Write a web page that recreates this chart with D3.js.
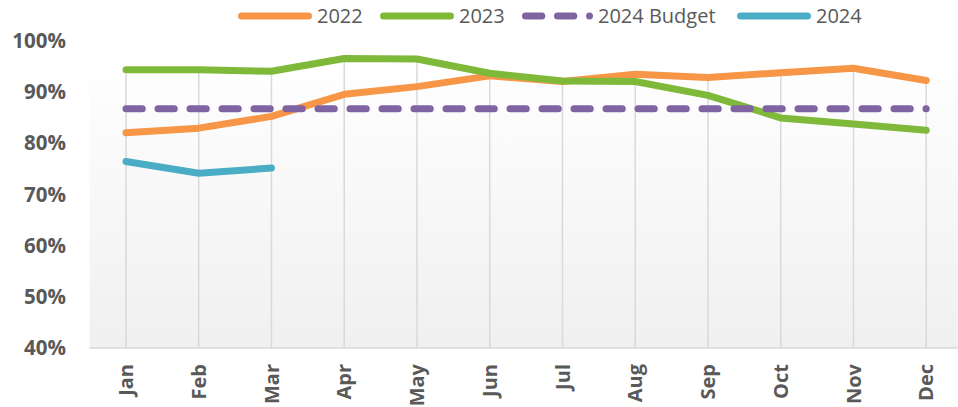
<!DOCTYPE html>
<html>
<head>
<meta charset="utf-8">
<script src="https://cdn.jsdelivr.net/npm/d3@7"></script>
<style>
  body { margin: 0; background: #fff; }
  text { font-family: "Open Sans", sans-serif; fill: #595959; }
</style>
</head>
<body>
<div id="chart"></div>
<script>
const width = 958;
const height = 407;

const months = ["Jan", "Feb", "Mar", "Apr", "May", "Jun", "Jul", "Aug", "Sep", "Oct", "Nov", "Dec"];
const yTicks = [0.4, 0.5, 0.6, 0.7, 0.8, 0.9, 1.0];

const vals2022 = [0.820, 0.829, 0.852, 0.895, 0.910, 0.931, 0.920, 0.934, 0.928, 0.937, 0.946, 0.922];
const vals2023 = [0.943, 0.943, 0.940, 0.965, 0.964, 0.936, 0.921, 0.920, 0.893, 0.849, 0.837, 0.825];
const valsBudget = [0.867, 0.867, 0.867, 0.867, 0.867, 0.867, 0.867, 0.867, 0.867, 0.867, 0.867, 0.867];
const vals2024 = [0.764, 0.741, 0.751];

const series = [
  {name: "2022", values: vals2022, color: "#F79646", dash: null},
  {name: "2023", values: vals2023, color: "#7FB93A", dash: null},
  {name: "2024 Budget", values: valsBudget, color: "#8064A2", dash: "16.3 15.7"},
  {name: "2024", values: vals2024, color: "#4BACC6", dash: null}
];

const svg = d3.select("#chart")
    .append("svg")
    .attr("width", width)
    .attr("height", height);

let x = d3.scalePoint().domain(months).range([89.6, 962.6]).padding(0.5);
let y = d3.scaleLinear().domain([0.4, 1.0]).range([348, 40.5]);

// plot background gradient
const grad = svg.append("defs").append("linearGradient")
    .attr("id", "bg").attr("x1", 0).attr("y1", 0).attr("x2", 0).attr("y2", 1);
grad.append("stop").attr("offset", "0%").attr("stop-color", "#fefefe");
grad.append("stop").attr("offset", "100%").attr("stop-color", "#f0f0f0");

svg.append("rect")
    .attr("x", 89.6)
    .attr("y", 75)
    .attr("width", width - 89.6)
    .attr("height", y(0.4) - 75)
    .attr("fill", "url(#bg)");

// drop lines from highest point down to the axis
svg.selectAll("line.drop").data(months)
  .join("line")
    .attr("class", "drop")
    .attr("x1", d => x(d))
    .attr("x2", d => x(d))
    .attr("y1", (d, i) => y(d3.max(series, s => s.values[i] == null ? -Infinity : s.values[i])))
    .attr("y2", y(0.4))
    .attr("stroke", "#d9d9d9")
    .attr("stroke-width", 1.5);

// bottom axis line
svg.append("line")
    .attr("x1", 89.6).attr("x2", width)
    .attr("y1", y(0.4)).attr("y2", y(0.4))
    .attr("stroke", "#d9d9d9")
    .attr("stroke-width", 1.5);

// y labels
svg.selectAll("text.ylab").data(yTicks)
  .join("text")
    .attr("class", "ylab")
    .attr("x", 66)
    .attr("y", d => y(d))
    .attr("dy", "0.36em")
    .attr("text-anchor", "end")
    .style("font-size", "20.5px")
    .style("font-weight", "bold")
    .text(d => d3.format(".0%")(d));

// x labels, rotated
svg.selectAll("text.xlab").data(months)
  .join("text")
    .attr("class", "xlab")
    .attr("transform", d => `translate(${x(d)},364) rotate(-90)`)
    .attr("dy", "0.36em")
    .attr("text-anchor", "end")
    .style("font-size", "20px")
    .style("font-weight", "bold")
    .text(d => d);

const line = d3.line()
    .x((d, i) => x(months[i]))
    .y(d => y(d));

svg.selectAll("path.series").data(series)
  .join("path")
    .attr("class", "series")
    .attr("d", d => line(d.values))
    .attr("fill", "none")
    .attr("stroke", d => d.color)
    .attr("stroke-width", 7)
    .attr("stroke-linecap", "round")
    .attr("stroke-linejoin", "round")
    .attr("stroke-dasharray", d => d.dash);

// legend
const legendX = [241.5, 383.5, 525.5, 740.5];
const legend = svg.selectAll("g.legend").data(series)
  .join("g")
    .attr("class", "legend")
    .attr("transform", (d, i) => `translate(${legendX[i]},16)`);

legend.append("line")
    .attr("x1", 0)
    .attr("x2", d => d.dash ? 64 : 67)
    .attr("y1", 0).attr("y2", 0)
    .attr("stroke", d => d.color)
    .attr("stroke-width", 7)
    .attr("stroke-linecap", "round")
    .attr("stroke-dasharray", d => d.dash);

legend.append("text")
    .attr("x", d => d.dash ? 72.5 : 75.5)
    .attr("y", 0)
    .attr("dy", "0.36em")
    .style("font-size", "20px")
    .text(d => d.name);
</script>
</body>
</html>
